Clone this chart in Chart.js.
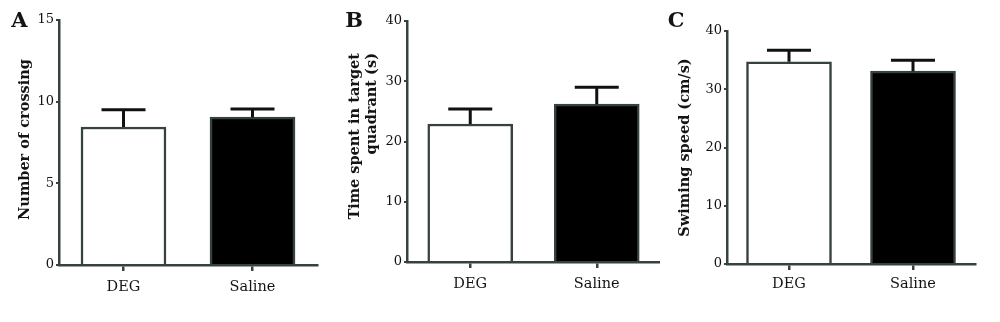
<!DOCTYPE html>
<html>
<head>
<meta charset="utf-8">
<script src="https://cdn.jsdelivr.net/npm/chart.js@4.4.1/dist/chart.umd.min.js"></script>
<style>
  html, body { margin: 0; padding: 0; background: #ffffff; }
  #wrap { position: relative; width: 1000px; height: 322px; overflow: hidden; }
  #wrap canvas { position: absolute; top: 0; }
</style>
</head>
<body>
<div id="wrap">
  <canvas id="panelA" width="330" height="322" style="left:0px"></canvas>
  <canvas id="panelB" width="330" height="322" style="left:330px"></canvas>
  <canvas id="panelC" width="340" height="322" style="left:660px"></canvas>
</div>
<script>
// Groups and measured values (mean and SEM) for each test
const groups = ['DEG', 'Saline'];

const crossingMean = [8.45, 9.05];
const crossingSem = [1.05, 0.5];
const crossingTicks = [0, 5, 10, 15];

const quadrantTimeMean = [22.9, 26.2];
const quadrantTimeSem = [2.5, 2.8];
const quadrantTimeTicks = [0, 10, 20, 30, 40];

const swimSpeedMean = [34.7, 33.1];
const swimSpeedSem = [2.0, 1.9];
const swimSpeedTicks = [0, 10, 20, 30, 40];

const AXIS = '#36423f';
const INK = '#141414';
const SERIF = '"DejaVu Serif", "Liberation Serif", serif';

// Upper SEM whisker with a horizontal cap above each bar
const errorBars = {
  id: 'errorBars',
  afterDatasetsDraw(chart, args, opts) {
    const meta = chart.getDatasetMeta(0);
    const yScale = chart.scales.y;
    const values = chart.data.datasets[0].data;
    const ctx = chart.ctx;
    ctx.save();
    ctx.strokeStyle = opts.color;
    ctx.lineWidth = opts.width;
    meta.data.forEach((bar, i) => {
      const base = yScale.getPixelForValue(values[i]);
      const top = yScale.getPixelForValue(values[i] + opts.sem[i]);
      ctx.beginPath();
      ctx.moveTo(bar.x, base);
      ctx.lineTo(bar.x, top);
      ctx.moveTo(bar.x - opts.capHalf, top);
      ctx.lineTo(bar.x + opts.capHalf, top);
      ctx.stroke();
    });
    ctx.restore();
  }
};

// Panel letter and rotated y-axis caption
const captions = {
  id: 'captions',
  afterDraw(chart, args, opts) {
    const ctx = chart.ctx;
    const area = chart.chartArea;
    ctx.save();
    ctx.fillStyle = INK;
    ctx.font = 'bold 21px ' + SERIF;
    ctx.textAlign = 'center';
    ctx.textBaseline = 'alphabetic';
    ctx.fillText(opts.letter, opts.letterX, opts.letterY);

    ctx.font = 'bold 14.5px ' + SERIF;
    const anchorY = opts.align === 'end'
      ? area.top + opts.titleEnd
      : (area.top + area.bottom) / 2 + opts.titleShift;
    ctx.translate(area.left - opts.titleGap, anchorY);
    ctx.rotate(-Math.PI / 2);
    ctx.textAlign = opts.align === 'end' ? 'right' : 'center';
    ctx.textBaseline = 'middle';
    opts.lines.forEach((t, i) => ctx.fillText(t, 0, i * opts.lineHeight));
    ctx.restore();
  }
};

function makePanel(id, mean, sem, ticks, padding, labelGap, caption) {
  return new Chart(document.getElementById(id), {
    type: 'bar',
    data: {
      labels: groups,
      datasets: [{
        data: mean,
        backgroundColor: ['#ffffff', '#000000'],
        borderColor: AXIS,
        borderWidth: 2.5,
        barThickness: 85
      }]
    },
    plugins: [errorBars, captions],
    options: {
      responsive: false,
      animation: false,
      devicePixelRatio: 1,
      layout: { padding: padding },
      plugins: {
        legend: { display: false },
        tooltip: { enabled: false },
        errorBars: { sem: sem, color: '#111111', width: 3, capHalf: 22 },
        captions: caption
      },
      scales: {
        x: {
          offset: true,
          grid: {
            display: true,
            offset: false,
            drawOnChartArea: false,
            tickLength: 6,
            color: AXIS,
            lineWidth: 2.5
          },
          border: { display: true, color: AXIS, width: 2.5 },
          ticks: { color: INK, font: { family: SERIF, size: 14.5 }, padding: labelGap },
          afterFit(scale) { scale.height = 40; }
        },
        y: {
          min: ticks[0],
          max: ticks[ticks.length - 1],
          ticks: {
            stepSize: ticks[1] - ticks[0],
            color: INK,
            font: { family: SERIF, size: 13 },
            padding: 2
          },
          grid: {
            drawOnChartArea: false,
            tickLength: 3,
            color: AXIS,
            lineWidth: 2
          },
          border: { display: true, color: AXIS, width: 2.5 },
          afterFit(scale) { scale.width = 30; }
        }
      }
    }
  });
}

makePanel('panelA', crossingMean, crossingSem, crossingTicks,
  { left: 29, right: 13, top: 20, bottom: 17 }, 8,
  { letter: 'A', letterX: 19.5, letterY: 27, lines: ['Number of crossing'],
    align: 'center', titleGap: 34, titleShift: -3, lineHeight: 17 });

makePanel('panelB', quadrantTimeMean, quadrantTimeSem, quadrantTimeTicks,
  { left: 47, right: 0, top: 21, bottom: 20 }, 8,
  { letter: 'B', letterX: 24, letterY: 27, lines: ['Time spent in target', 'quadrant (s)'],
    align: 'end', titleGap: 52, titleEnd: 32, lineHeight: 17 });

makePanel('panelC', swimSpeedMean, swimSpeedSem, swimSpeedTicks,
  { left: 37, right: 25, top: 31, bottom: 18 }, 6,
  { letter: 'C', letterX: 16, letterY: 27, lines: ['Swiming speed (cm/s)'],
    align: 'center', titleGap: 42, titleShift: 0, lineHeight: 17 });
</script>
</body>
</html>
